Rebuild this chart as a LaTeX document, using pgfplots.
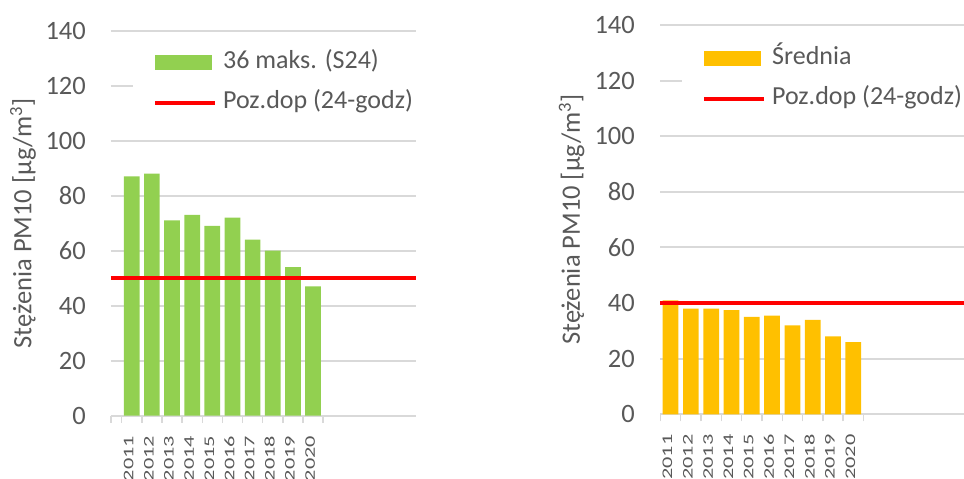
\documentclass[border=0pt]{standalone}
\usepackage{fontspec}
\setmainfont{Carlito}
\usepackage{graphicx}
\usepackage{pgfplots}
\pgfplotsset{compat=1.18}

\definecolor{txtgray}{HTML}{595959}
\definecolor{gridgray}{HTML}{D9D9D9}
\definecolor{pmgreen}{HTML}{92D050}
\definecolor{pmorange}{HTML}{FFC000}
\definecolor{limred}{HTML}{FF0000}

% narrow year labels under the bars
\newcommand{\yr}[1]{\scalebox{1}[0.66]{#1}}

\pgfplotsset{
  pm/.style={
    scale only axis, width=305pt, anchor=south west,
    ymin=0, ymax=140, ytick={0,20,...,140},
    axis x line*=bottom, axis y line*=left,
    x axis line style={gridgray, line width=2pt},
    y axis line style={draw=none},
    ymajorgrids, major grid style={gridgray, line width=2pt},
    major tick length=0pt, minor tick length=7pt, tick align=outside,
    ytick style={draw=none},
    major x tick style={draw=none},
    minor x tick style={gridgray, line width=1.5pt},
    xtick={-0.15,0.85,1.85,2.85,3.85,4.85,5.85,6.85,7.85,8.85},
    xticklabels={\yr{2011},\yr{2012},\yr{2013},\yr{2014},\yr{2015},\yr{2016},\yr{2017},\yr{2018},\yr{2019},\yr{2020}},
    xticklabel style={rotate=90, anchor=east, inner sep=0pt, font=\fontsize{22.3}{22.3}\selectfont, text=txtgray},
    xticklabel shift=20pt,
    yticklabel style={anchor=east, inner sep=0pt, font=\fontsize{26.5}{26.5}\selectfont, text=txtgray},
    yticklabel shift=25pt,
    /pgf/number format/assume math mode=true,
    every axis y label/.style={rotate=90, anchor=center, font=\fontsize{26.5}{26.5}\selectfont, text=txtgray},
    ylabel={Stężenia PM10 [µg/m\textsuperscript{3}]},
    legend cell align=left,
    legend style={fill=white, draw=none, inner xsep=20pt, inner ysep=4pt, anchor=north west,
      font=\fontsize{26}{26}\selectfont, text=txtgray,
      nodes={inner sep=0pt, text height=18pt, text depth=6pt},
      row sep=16pt,
      /tikz/every odd column/.append style={column sep=6pt}},
  },
  barlegend/.style={legend image code/.code={\fill[#1] (0pt,-7.5pt) rectangle (57pt,7.5pt);}},
  linelegend/.style={legend image code/.code={\draw[limred, line width=4pt] (0pt,0pt) -- (60pt,0pt);}},
}

\pgfplotstableread{
x  maks  srednia
0  87    41
1  88    38
2  71    38
3  73    37.5
4  69    35
5  72    35.5
6  64    32
7  60    34
8  54    28
9  47    26
}\pmdata

\begin{document}
\begin{tikzpicture}
\useasboundingbox (0,0) rectangle (964pt,479pt);

% 36th highest daily value against the 24-hour limit
\begin{axis}[pm, at={(111pt,63.3pt)}, height=385pt,
  xmin=-1.03, xmax=14.11,
  minor xtick={-1.03,-0.5,0.5,1.5,2.5,3.5,4.5,5.5,6.5,7.5,8.5,9.5},
  ylabel style={at={(axis description cs:-0.2885,0.5)}},
  legend style={at={(axis description cs:0.072,0.959)}}]
\addplot[ybar, bar width=15.7pt, fill=pmgreen, draw=none, barlegend={pmgreen}]
  table[x=x, y=maks] {\pmdata};
\addlegendentry{36 maks. (S24)}
\addplot[limred, line width=4pt, linelegend] coordinates {(-1.03,50) (14.11,50)};
\addlegendentry{Poz.dop (24-godz)}
\end{axis}

% annual mean
\begin{axis}[pm, at={(660pt,64.7pt)}, height=389.3pt,
  xmin=-0.52, xmax=14.5,
  minor xtick={-0.5,0.5,1.5,2.5,3.5,4.5,5.5,6.5,7.5,8.5,9.5},
  ylabel style={at={(axis description cs:-0.2895,0.5)}},
  legend style={at={(axis description cs:0.072,0.955)}}]
\addplot[ybar, bar width=15.7pt, fill=pmorange, draw=none, barlegend={pmorange}]
  table[x=x, y=srednia] {\pmdata};
\addlegendentry{Średnia}
\addplot[limred, line width=4pt, linelegend] coordinates {(-0.52,40) (14.5,40)};
\addlegendentry{Poz.dop (24-godz)}
\end{axis}
\end{tikzpicture}
\end{document}
